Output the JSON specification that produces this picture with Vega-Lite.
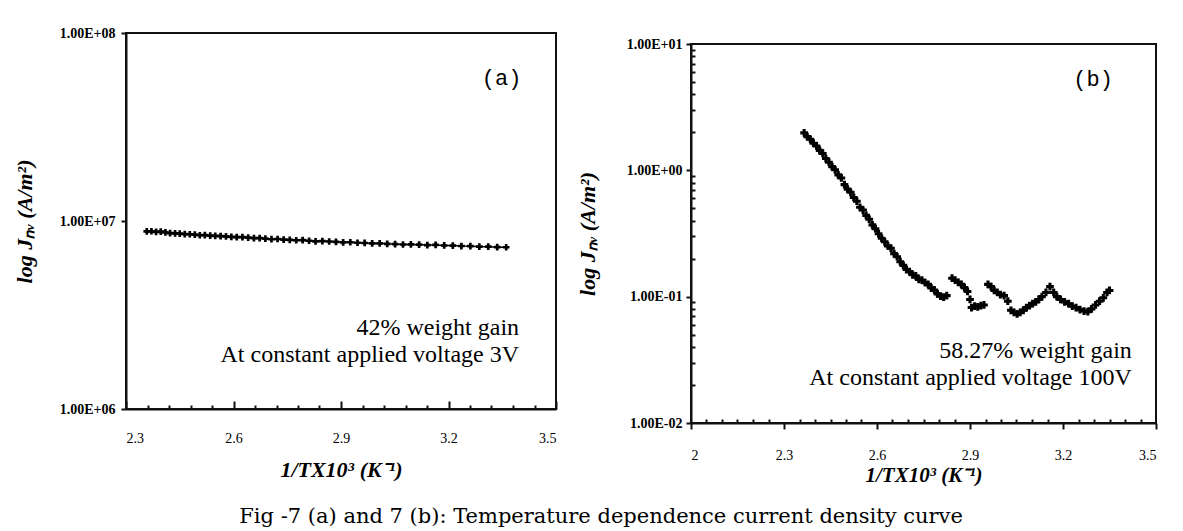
{
"$schema": "https://vega.github.io/schema/vega-lite/v6.json",
"background": "white",
"padding": {"left": 12, "top": 25, "right": 5, "bottom": 5},
"datasets": {
"a": [
{"x":2.358,"y":8800000},{"x":2.371,"y":8820000},{"x":2.384,"y":8760000},{"x":2.397,"y":8780000},{"x":2.41,"y":8700000},{"x":2.423,"y":8620000},{"x":2.437,"y":8600000},{"x":2.45,"y":8560000},{"x":2.464,"y":8520000},{"x":2.478,"y":8500000},{"x":2.492,"y":8460000},{"x":2.506,"y":8400000},{"x":2.52,"y":8420000},{"x":2.535,"y":8360000},{"x":2.549,"y":8340000},{"x":2.564,"y":8300000},{"x":2.579,"y":8280000},{"x":2.594,"y":8240000},{"x":2.609,"y":8200000},{"x":2.625,"y":8210000},{"x":2.641,"y":8150000},{"x":2.657,"y":8100000},{"x":2.673,"y":8110000},{"x":2.689,"y":8050000},{"x":2.706,"y":8000000},{"x":2.723,"y":8020000},{"x":2.74,"y":7960000},{"x":2.757,"y":7940000},{"x":2.775,"y":7900000},{"x":2.793,"y":7910000},{"x":2.811,"y":7850000},{"x":2.829,"y":7800000},{"x":2.848,"y":7820000},{"x":2.867,"y":7780000},{"x":2.886,"y":7750000},{"x":2.906,"y":7700000},{"x":2.926,"y":7710000},{"x":2.946,"y":7660000},{"x":2.966,"y":7640000},{"x":2.987,"y":7600000},{"x":3.008,"y":7610000},{"x":3.029,"y":7560000},{"x":3.051,"y":7540000},{"x":3.073,"y":7500000},{"x":3.095,"y":7510000},{"x":3.118,"y":7480000},{"x":3.141,"y":7450000},{"x":3.164,"y":7460000},{"x":3.188,"y":7410000},{"x":3.212,"y":7400000},{"x":3.236,"y":7360000},{"x":3.261,"y":7350000},{"x":3.286,"y":7310000},{"x":3.311,"y":7300000},{"x":3.336,"y":7260000},{"x":3.361,"y":7250000}
],
"b": [
{"x":2.365,"y":1.98},{"x":2.375,"y":1.85},{"x":2.385,"y":1.76},{"x":2.395,"y":1.64},{"x":2.405,"y":1.56},{"x":2.415,"y":1.44},{"x":2.425,"y":1.36},{"x":2.435,"y":1.24},{"x":2.445,"y":1.16},{"x":2.455,"y":1.07},{"x":2.465,"y":1.01},{"x":2.475,"y":0.92},{"x":2.485,"y":0.87},{"x":2.495,"y":0.77},{"x":2.505,"y":0.71},{"x":2.515,"y":0.67},{"x":2.525,"y":0.61},{"x":2.535,"y":0.57},{"x":2.545,"y":0.51},{"x":2.555,"y":0.485},{"x":2.565,"y":0.44},{"x":2.575,"y":0.41},{"x":2.585,"y":0.37},{"x":2.595,"y":0.345},{"x":2.605,"y":0.315},{"x":2.615,"y":0.29},{"x":2.625,"y":0.272},{"x":2.635,"y":0.252},{"x":2.645,"y":0.242},{"x":2.655,"y":0.219},{"x":2.665,"y":0.207},{"x":2.675,"y":0.189},{"x":2.685,"y":0.177},{"x":2.695,"y":0.164},{"x":2.705,"y":0.158},{"x":2.715,"y":0.149},{"x":2.725,"y":0.146},{"x":2.735,"y":0.137},{"x":2.745,"y":0.135},{"x":2.755,"y":0.129},{"x":2.765,"y":0.125},{"x":2.775,"y":0.117},{"x":2.785,"y":0.113},{"x":2.795,"y":0.105},{"x":2.805,"y":0.101},{"x":2.815,"y":0.099},{"x":2.825,"y":0.102},
{"x":2.842,"y":0.14},{"x":2.852,"y":0.135},{"x":2.862,"y":0.13},{"x":2.872,"y":0.125},{"x":2.882,"y":0.118},{"x":2.892,"y":0.11},{"x":2.9,"y":0.095},{"x":2.905,"y":0.082},{"x":2.915,"y":0.084},{"x":2.925,"y":0.083},{"x":2.935,"y":0.085},{"x":2.945,"y":0.086},{"x":2.958,"y":0.125},{"x":2.968,"y":0.12},{"x":2.978,"y":0.112},{"x":2.988,"y":0.108},{"x":2.998,"y":0.104},{"x":3.01,"y":0.102},{"x":3.022,"y":0.092},{"x":3.032,"y":0.078},{"x":3.042,"y":0.075},{"x":3.052,"y":0.073},{"x":3.062,"y":0.075},{"x":3.072,"y":0.078},{"x":3.082,"y":0.082},{"x":3.092,"y":0.085},{"x":3.102,"y":0.088},{"x":3.112,"y":0.091},{"x":3.122,"y":0.095},{"x":3.132,"y":0.1},{"x":3.145,"y":0.108},{"x":3.158,"y":0.12},{"x":3.17,"y":0.108},{"x":3.18,"y":0.1},{"x":3.192,"y":0.095},{"x":3.205,"y":0.091},{"x":3.218,"y":0.088},{"x":3.23,"y":0.084},{"x":3.242,"y":0.082},{"x":3.255,"y":0.079},{"x":3.268,"y":0.077},{"x":3.28,"y":0.076},{"x":3.292,"y":0.08},{"x":3.305,"y":0.086},{"x":3.318,"y":0.092},{"x":3.33,"y":0.098},{"x":3.342,"y":0.108},{"x":3.35,"y":0.112}
],
"la": [{"x":3.348,"y":57700000,"t":"(a)"}],
"ta": [{"x":3.397,"y":2700000,"t":"42% weight gain"},{"x":3.397,"y":1940000,"t":"At constant applied voltage 3V"}],
"lb": [{"x":3.297,"y":5.27,"t":"(b)"}],
"tb": [{"x":3.422,"y":0.0373,"t":"58.27% weight gain"},{"x":3.422,"y":0.0229,"t":"At constant applied voltage  100V"}]
},
"title": {"text": "Fig -7 (a) and 7 (b):  Temperature dependence current density curve", "orient": "bottom", "anchor": "middle", "font": "DejaVu Serif", "fontSize": 21, "fontWeight": "normal", "color": "black", "offset": 20, "dx": 16},
"align": "none",
"spacing": 17,
"hconcat": [
{
"width": 430, "height": 376,
"encoding": {
"x": {"field": "x", "type": "quantitative", "scale": {"domain": [2.3, 3.5], "nice": false, "zero": false},
 "title": "1/TX10³ (K⁻¹)",
 "axis": {"values": [2.3,2.36,2.42,2.48,2.54,2.6,2.66,2.72,2.78,2.84,2.9,2.96,3.02,3.08,3.14,3.2,3.26,3.32,3.38,3.44,3.5],
  "labelExpr": "indexof([2.3,2.6,2.9,3.2,3.5], datum.value) >= 0 ? format(datum.value, '.1f') : ''",
  "tickSize": {"condition": {"test": "indexof([2.3,2.6,2.9,3.2,3.5], datum.value) >= 0", "value": -8}, "value": -4},
  "labelPadding": 30, "titlePadding": 14, "labelFont": "Liberation Serif", "labelFontSize": 14, "titleFont": "Liberation Serif", "titleFontSize": 22, "titleFontStyle": "italic", "titleFontWeight": "bold"}},
"y": {"field": "y", "type": "quantitative", "scale": {"type": "log", "domain": [1000000, 100000000], "nice": false},
 "title": "log Jₙᵥ (A/m²)",
 "axis": {"values": [1000000, 10000000, 100000000],
  "labelExpr": "datum.value >= 1e8 ? '1.00E+08' : (datum.value >= 1e7 ? '1.00E+07' : '1.00E+06')",
  "tickSize": 5, "labelPadding": 6, "titlePadding": 23, "labelFont": "Liberation Serif", "labelFontSize": 14, "labelFontWeight": "bold", "titleFont": "Liberation Serif", "titleFontSize": 22, "titleFontStyle": "italic", "titleFontWeight": "bold"}}
},
"layer": [
{"data": {"name": "a"}, "mark": {"type": "line", "color": "black", "strokeWidth": 1.5}},
{"data": {"name": "a"}, "mark": {"type": "point", "shape": "cross", "filled": true, "color": "black", "size": 45, "opacity": 1}},
{"data": {"name": "la"}, "mark": {"type": "text", "font": "Liberation Mono", "fontSize": 22, "align": "center", "baseline": "middle", "color": "black"}, "encoding": {"text": {"field": "t"}}},
{"data": {"name": "ta"}, "mark": {"type": "text", "font": "Liberation Serif", "fontSize": 24, "align": "right", "baseline": "middle", "color": "black"}, "encoding": {"text": {"field": "t"}}}
]
},
{
"spacing": 2,
"vconcat": [
{"width": 465, "height": 1, "data": {"values": []}, "mark": "point", "view": {"stroke": null}},
{
"width": 465, "height": 379,
"encoding": {
"x": {"field": "x", "type": "quantitative", "scale": {"domain": [2, 3.5], "nice": false, "zero": false},
 "title": "1/TX10³ (K⁻¹)",
 "axis": {"values": [2,2.05,2.1,2.15,2.2,2.25,2.3,2.35,2.4,2.45,2.5,2.55,2.6,2.65,2.7,2.75,2.8,2.85,2.9,2.95,3,3.05,3.1,3.15,3.2,3.25,3.3,3.35,3.4,3.45,3.5],
  "labelExpr": "indexof([2.3,2.6,2.9,3.2,3.5], datum.value) >= 0 ? format(datum.value, '.1f') : (datum.value == 2 ? '2' : '')",
  "tickSize": {"condition": {"test": "indexof([2,2.3,2.6,2.9,3.2,3.5], datum.value) >= 0", "value": 6}, "value": -4},
  "labelPadding": 19, "titlePadding": 2, "labelFont": "Liberation Serif", "labelFontSize": 14, "titleFont": "Liberation Serif", "titleFontSize": 21, "titleFontStyle": "italic", "titleFontWeight": "bold"}},
"y": {"field": "y", "type": "quantitative", "scale": {"type": "log", "domain": [0.01, 10], "nice": false},
 "title": "log Jₙᵥ (A/m²)",
 "axis": {"values": [0.01,0.02,0.03,0.04,0.05,0.06,0.07,0.08,0.09,0.1,0.2,0.3,0.4,0.5,0.6,0.7,0.8,0.9,1,2,3,4,5,6,7,8,9,10],
  "labelExpr": "datum.value == 10 ? '1.00E+01' : (datum.value == 1 ? '1.00E+00' : (datum.value == 0.1 ? '1.00E-01' : (datum.value == 0.01 ? '1.00E-02' : '')))",
  "tickSize": {"condition": {"test": "indexof([0.01,0.1,1,10], datum.value) >= 0", "value": 5}, "value": -4},
  "labelPadding": 4, "titlePadding": 27, "labelFont": "Liberation Serif", "labelFontSize": 14, "labelFontWeight": "bold", "titleFont": "Liberation Serif", "titleFontSize": 22, "titleFontStyle": "italic", "titleFontWeight": "bold"}}
},
"layer": [
{"data": {"name": "b"}, "mark": {"type": "point", "shape": "cross", "filled": true, "color": "black", "size": 60, "opacity": 1}},
{"data": {"name": "lb"}, "mark": {"type": "text", "font": "Liberation Mono", "fontSize": 22, "align": "center", "baseline": "middle", "color": "black"}, "encoding": {"text": {"field": "t"}}},
{"data": {"name": "tb"}, "mark": {"type": "text", "font": "Liberation Serif", "fontSize": 24, "align": "right", "baseline": "middle", "color": "black"}, "encoding": {"text": {"field": "t"}}}
]
}
]
}
],
"config": {
"view": {"stroke": "#111", "strokeWidth": 2},
"axis": {"domainColor": "#111", "domainWidth": 2, "tickColor": "#111", "tickWidth": 2, "grid": false, "labelColor": "black", "titleColor": "black"},
"title": {"color": "black"}
}
}
